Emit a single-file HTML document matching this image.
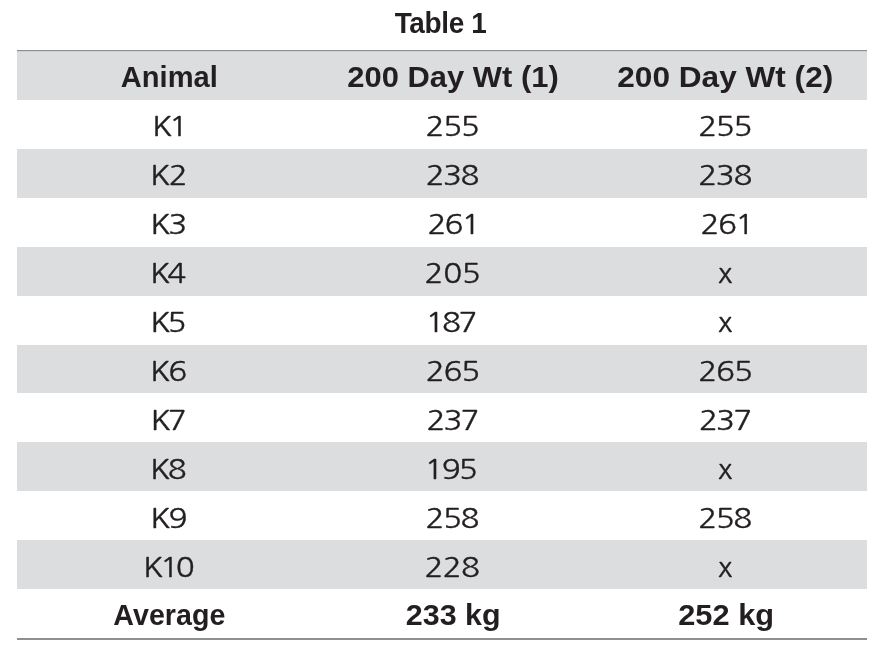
<!DOCTYPE html>
<html lang="en"><head><meta charset="utf-8"><title>Table 1</title>
<style>
html,body{margin:0;padding:0;background:#fff;}
body{width:890px;height:656px;position:relative;overflow:hidden;color:#231f20;font-family:"Liberation Sans","DejaVu Sans",sans-serif;}
.title{position:absolute;left:17px;width:850px;top:0;height:50px;line-height:50px;text-align:center;white-space:nowrap;
  font-family:"Liberation Sans","DejaVu Sans",sans-serif;font-weight:bold;font-size:29.4px;}
.rule{position:absolute;left:17px;width:850px;}
.rule.t1{top:50px;height:1px;background:#8c8e91;}
.rule.t2{top:51px;height:1px;background:#cfd0d2;}
.rule.bt{top:638px;height:2px;background:#8d8f92;}
table{position:absolute;left:17px;top:51px;width:850px;border-collapse:collapse;border-spacing:0;table-layout:fixed;}
tr{height:48.91px;}
thead tr{height:49px;}
th{height:49px;line-height:49px;}
td{height:48.91px;line-height:48.91px;}
td,th{padding:0;text-align:center;white-space:nowrap;overflow:visible;font-weight:normal;}
td{font-family:"NanumGothic","DejaVu Sans","Liberation Sans",sans-serif;font-size:27px;-webkit-text-stroke:0.35px #231f20;}
th,tr.b td{font-family:"Liberation Sans","DejaVu Sans",sans-serif;font-weight:bold;font-size:29.4px;-webkit-text-stroke:0;}
td span,th span,.title span{display:inline-block;transform-origin:50% 50%;}
tr.g{background:#dcddde;}
</style></head><body>
<div class="title"><span style="letter-spacing:-0.37px;transform:translate(-1.69px,-2px) scaleX(0.950)">Table 1</span></div>
<table>
<colgroup><col style="width:304px"><col style="width:264px"><col style="width:282px"></colgroup>
<thead>
<tr class="g"><th><span style="letter-spacing:0.02px;transform:translate(0.29px,1px) scaleX(0.990)">Animal</span></th><th><span style="letter-spacing:0.01px;transform:translate(0.50px,1px) scaleX(1.052)">200 Day Wt (1)</span></th><th><span style="transform:translate(-1.20px,1px) scaleX(1.075)">200 Day Wt (2)</span></th></tr>
</thead>
<tbody>
<tr><td><span style="letter-spacing:-2.72px;transform:translate(-0.64px,3px) scaleX(1.160)">K1</span></td><td><span style="letter-spacing:-1.21px;transform:translate(-0.75px,3px) scaleX(1.160)">255</span></td><td><span style="letter-spacing:-1.14px;transform:translate(-1.19px,3px) scaleX(1.160)">255</span></td></tr>
<tr class="g"><td><span style="letter-spacing:-1.24px;transform:translate(-0.38px,3px) scaleX(1.160)">K2</span></td><td><span style="letter-spacing:-1.31px;transform:translate(-0.75px,3px) scaleX(1.160)">238</span></td><td><span style="letter-spacing:-1.15px;transform:translate(-1.18px,3px) scaleX(1.160)">238</span></td></tr>
<tr><td><span style="letter-spacing:-1.89px;transform:translate(-1.28px,3px) scaleX(1.160)">K3</span></td><td><span style="letter-spacing:-1.71px;transform:translate(0.14px,3px) scaleX(1.160)">261</span></td><td><span style="letter-spacing:-1.36px;transform:translate(1.15px,3px) scaleX(1.160)">261</span></td></tr>
<tr class="g"><td><span style="letter-spacing:-2.27px;transform:translate(-1.78px,3px) scaleX(1.160)">K4</span></td><td><span style="letter-spacing:-0.35px;transform:translate(-0.55px,3px) scaleX(1.160)">205</span></td><td><span style="transform:translate(-0.60px,3px) scaleX(1.064)">x</span></td></tr>
<tr><td><span style="letter-spacing:-2.54px;transform:translate(-2.37px,3px) scaleX(1.160)">K5</span></td><td><span style="letter-spacing:-2.22px;transform:translate(-3.00px,3px) scaleX(1.160)">187</span></td><td><span style="transform:translate(-0.60px,3px) scaleX(1.064)">x</span></td></tr>
<tr class="g"><td><span style="letter-spacing:-1.74px;transform:translate(-1.47px,3px) scaleX(1.160)">K6</span></td><td><span style="letter-spacing:-0.99px;transform:translate(-0.68px,3px) scaleX(1.160)">265</span></td><td><span style="letter-spacing:-1.02px;transform:translate(-1.01px,3px) scaleX(1.160)">265</span></td></tr>
<tr><td><span style="letter-spacing:-2.24px;transform:translate(-1.28px,4px) scaleX(1.160)">K7</span></td><td><span style="letter-spacing:-1.66px;transform:translate(-1.06px,4px) scaleX(1.160)">237</span></td><td><span style="letter-spacing:-1.69px;transform:translate(-1.39px,4px) scaleX(1.160)">237</span></td></tr>
<tr class="g"><td><span style="letter-spacing:-2.06px;transform:translate(-1.56px,4px) scaleX(1.160)">K8</span></td><td><span style="letter-spacing:-1.62px;transform:translate(-2.87px,4px) scaleX(1.160)">195</span></td><td><span style="transform:translate(-0.60px,4px) scaleX(1.064)">x</span></td></tr>
<tr><td><span style="letter-spacing:-1.51px;transform:translate(-1.42px,4px) scaleX(1.160)">K9</span></td><td><span style="letter-spacing:-1.32px;transform:translate(-0.78px,4px) scaleX(1.160)">258</span></td><td><span style="letter-spacing:-1.28px;transform:translate(-1.11px,4px) scaleX(1.160)">258</span></td></tr>
<tr class="g"><td><span style="letter-spacing:-2.65px;transform:translate(-1.75px,4px) scaleX(1.160)">K10</span></td><td><span style="letter-spacing:-0.61px;transform:translate(-0.65px,4px) scaleX(1.160)">228</span></td><td><span style="transform:translate(-0.60px,4px) scaleX(1.064)">x</span></td></tr>
</tbody>
<tfoot>
<tr class="b"><td><span style="letter-spacing:0.01px;transform:translate(-0.16px,2px) scaleX(0.974)">Average</span></td><td><span style="transform:translate(0.44px,2px) scaleX(1.036)">233 kg</span></td><td><span style="letter-spacing:0.02px;transform:translate(0.39px,2px) scaleX(1.047)">252 kg</span></td></tr>
</tfoot>
</table>
<div class="rule t1"></div><div class="rule t2"></div><div class="rule bt"></div>
</body></html>
